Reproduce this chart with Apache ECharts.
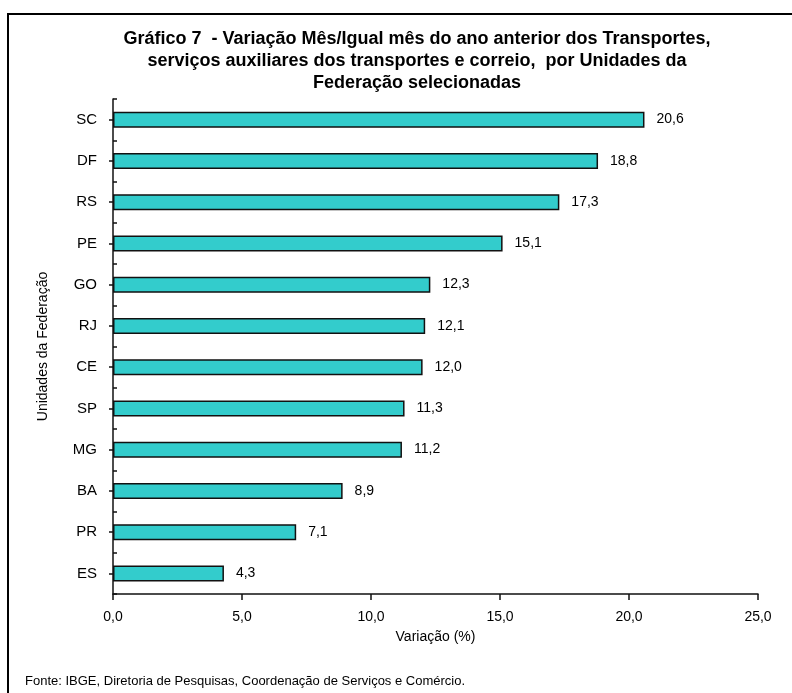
<!DOCTYPE html>
<html>
<head>
<meta charset="utf-8">
<script src="https://cdn.jsdelivr.net/npm/echarts@6/dist/echarts.min.js"></script>
<style>html,body{margin:0;padding:0;background:#fff}#c{width:792px;height:693px}</style>
</head>
<body>
<div id="c"></div>
<script>
var categories = ['SC','DF','RS','PE','GO','RJ','CE','SP','MG','BA','PR','ES'];
var values = [20.6, 18.8, 17.3, 15.1, 12.3, 12.1, 12.0, 11.3, 11.2, 8.9, 7.1, 4.3];
var xTicks = {min: 0, max: 25, interval: 5};
var titleText = 'Gráfico 7  - Variação Mês/Igual mês do ano anterior dos Transportes,\nserviços auxiliares dos transportes e correio,  por Unidades da\nFederação selecionadas';
var sourceText = 'Fonte: IBGE, Diretoria de Pesquisas, Coordenação de Serviços e Comércio.';

var fmt = function (v) { return v.toFixed(1).replace('.', ','); };
var chart = echarts.init(document.getElementById('c'), null, {renderer: 'canvas'});
var font = 'Liberation Sans, Arial, sans-serif';
chart.setOption({
  animation: false,
  backgroundColor: '#fff',
  textStyle: {fontFamily: font},
  title: {
    text: titleText,
    left: 412, top: 23, textAlign: 'center',
    textStyle: {fontSize: 18, fontWeight: 'bold', color: '#000', lineHeight: 22, fontFamily: font}
  },
  graphic: [
    {type: 'rect', shape: {x: 8, y: 14, width: 800, height: 700}, style: {fill: 'none', stroke: '#000', lineWidth: 2}, silent: true},
    {type: 'text', left: 25, top: 675, style: {text: sourceText, fontSize: 13, fill: '#000', fontFamily: font}}
  ],
  grid: {left: 113, top: 99, right: 34, bottom: 99, containLabel: false},
  xAxis: {
    type: 'value', min: xTicks.min, max: xTicks.max, interval: xTicks.interval,
    name: 'Variação (%)', nameLocation: 'middle', nameGap: 36,
    nameTextStyle: {fontSize: 14, color: '#000', fontFamily: font},
    axisLine: {show: true, lineStyle: {color: '#111', width: 1.5}},
    axisTick: {show: true, inside: false, length: 6, lineStyle: {color: '#111', width: 1.5}},
    axisLabel: {formatter: fmt, fontSize: 14, color: '#000', margin: 16},
    splitLine: {show: false}
  },
  yAxis: [{
    type: 'category', data: categories, inverse: true,
    name: 'Unidades da Federação', nameLocation: 'middle', nameGap: 63, nameRotate: 90,
    nameTextStyle: {fontSize: 14, color: '#000', fontFamily: font},
    axisLine: {show: true, lineStyle: {color: '#111', width: 1.5}},
    axisTick: {show: true, inside: true, length: 4, alignWithLabel: false, lineStyle: {color: '#111', width: 1.5}},
    axisLabel: {fontSize: 15, color: '#000', margin: 16},
    splitLine: {show: false}
  }, {
    type: 'category', data: categories, inverse: true, position: 'left',
    axisLine: {show: false},
    axisTick: {show: true, inside: false, length: 4, alignWithLabel: true, lineStyle: {color: '#111', width: 1.5}},
    axisLabel: {show: false},
    splitLine: {show: false}
  }],
  series: [{
    type: 'bar', data: values, yAxisIndex: 0, barWidth: 16,
    itemStyle: {color: '#33CCCC', borderColor: '#111', borderWidth: 1.5},
    label: {show: true, position: 'right', distance: 12, formatter: function (p) { return fmt(p.value); }, fontSize: 14, color: '#000'}
  }]
});
</script>
</body>
</html>
